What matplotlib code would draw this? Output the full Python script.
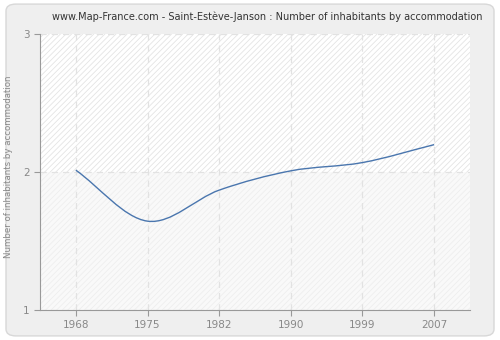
import matplotlib
matplotlib.use("Agg")
import matplotlib.pyplot as plt
import numpy as np
from matplotlib.path import Path
from matplotlib.patches import PathPatch, FancyBboxPatch

years = ["1968", "1975", "1982", "1990", "1999", "2007"]
inhabitants = [2.015, 1.645, 1.87, 2.01, 2.07, 2.20]

plt.rcParams['hatch.color'] = '#e2e2e2'
plt.rcParams['hatch.linewidth'] = 0.6

fig = plt.figure(figsize=(5, 3.4), dpi=100)
fig.patch.set_facecolor('white')
# rounded grey panel behind everything
fig.patches.append(FancyBboxPatch((0.012, 0.012), 0.976, 0.976,
                                  boxstyle="round,pad=0,rounding_size=0.02",
                                  transform=fig.transFigure, facecolor='#efefef',
                                  edgecolor='#d8d8d8', linewidth=1, zorder=-5))

ax = fig.add_axes([0.08, 0.088, 0.86, 0.811])
ax.set_facecolor('#fcfcfc')
x = np.arange(len(years))
ax.set_xlim(-0.5, len(years) - 0.5)
ax.set_ylim(1, 3)

# striped background, lighter below 2
ax.axhspan(2, 3, facecolor='white', edgecolor='#e4e4e4', hatch='//////', linewidth=0, zorder=0)
ax.axhspan(1, 2, facecolor='#f9f9f9', edgecolor='#eeeeee', hatch='//////', linewidth=0, zorder=0)

# smooth curve through the points (cubic bezier segments)
y = np.array(inhabitants)
slopes = np.gradient(y)
verts = [(x[0], y[0])]
codes = [Path.MOVETO]
for i in range(len(x) - 1):
    verts += [(x[i] + 1/3, y[i] + slopes[i]/3),
              (x[i+1] - 1/3, y[i+1] - slopes[i+1]/3),
              (x[i+1], y[i+1])]
    codes += [Path.CURVE4] * 3
ax.add_patch(PathPatch(Path(verts, codes), facecolor='none', edgecolor='#4a76ae',
                       linewidth=1.0, zorder=3))

ax.set_xticks(x)
ax.set_xticklabels(years)
ax.set_yticks([1, 2, 3])
ax.grid(True, color='#e2e2e2', linestyle=(0, (5, 4)), linewidth=0.9)
ax.set_axisbelow(True)
for s in ['top', 'right']:
    ax.spines[s].set_visible(False)
for s in ['left', 'bottom']:
    ax.spines[s].set_color('#999999')
ax.tick_params(colors='#999999', labelcolor='#888888', labelsize=7.5, length=4)
ax.set_ylabel('Number of inhabitants by accommodation', color='#888888', fontsize=6.2)
ax.yaxis.set_label_coords(-0.062, 0.52)
fig.text(0.534, 0.95, 'www.Map-France.com - Saint-Estève-Janson : Number of inhabitants by accommodation',
         fontsize=7, color='#333333', ha='center', va='center')

fig.savefig('out.png', dpi=100, facecolor=fig.get_facecolor())
